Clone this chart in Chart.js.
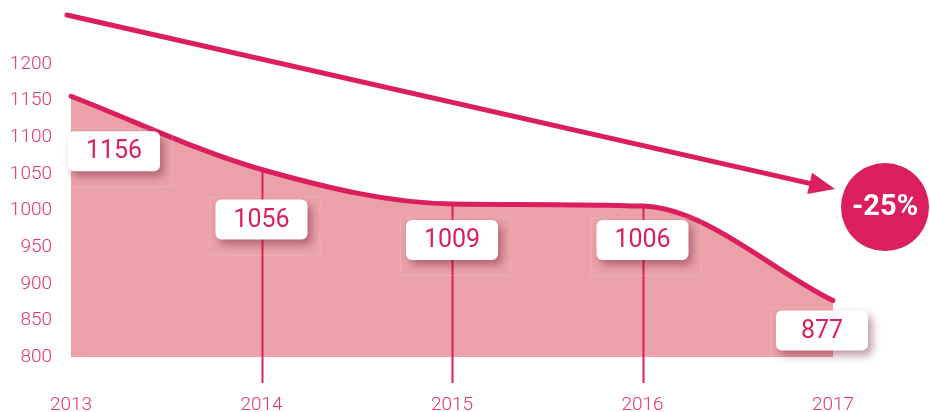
<!DOCTYPE html>
<html>
<head>
<meta charset="utf-8">
<script src="https://cdn.jsdelivr.net/npm/chart.js@4/dist/chart.umd.min.js"></script>
<style>
  html, body { margin: 0; padding: 0; background: #fff; }
  #wrap { width: 930px; height: 412px; position: relative; }
</style>
</head>
<body>
<div id="wrap"><canvas id="trendChart"></canvas></div>
<script>
// Chart data
const years = ['2013', '2014', '2015', '2016', '2017'];
const totals = [1156, 1056, 1009, 1006, 877];
const changeLabel = '-25%';
const yMin = 800;
const yMax = 1200;
const yStep = 50;

const LINE = '#db1e5e';
const FILL = '#eaa2a8';
const TEXT = '#e0336f';

// label box offsets from each point (style only)
const boxOffsets = [[43, 55], [0, 50], [0, 36], [0, 34], [-11, 30]];

function roundRect(ctx, x, y, w, h, r) {
    ctx.beginPath();
    ctx.moveTo(x + r, y);
    ctx.arcTo(x + w, y, x + w, y + h, r);
    ctx.arcTo(x + w, y + h, x, y + h, r);
    ctx.arcTo(x, y + h, x, y, r);
    ctx.arcTo(x, y, x + w, y, r);
    ctx.closePath();
}

const decorPlugin = {
    id: 'decor',
    afterDatasetsDraw(chart) {
        const { ctx, chartArea, scales } = chart;
        const xs = scales.x, ys = scales.y;
        ctx.save();

        // drop lines for the middle years
        ctx.strokeStyle = LINE;
        ctx.lineWidth = 2;
        for (let i = 1; i < totals.length - 1; i++) {
            const px = Math.round(xs.getPixelForValue(i)) + 0.5;
            ctx.beginPath();
            ctx.moveTo(px, ys.getPixelForValue(totals[i]));
            ctx.lineTo(px, chartArea.bottom + 26);
            ctx.stroke();
        }

        // value boxes
        totals.forEach((v, i) => {
            const cx = xs.getPixelForValue(i) + boxOffsets[i][0];
            const cy = ys.getPixelForValue(v) + boxOffsets[i][1];
            const w = 92, h = 40;
            const bx = cx - w / 2, by = cy - h / 2;

            ctx.strokeStyle = 'rgba(255,255,255,0.15)';
            ctx.lineWidth = 1;
            ctx.strokeRect(bx - 5.5, by - 2.5, w + 18, h + 18);

            ctx.save();
            ctx.shadowColor = 'rgba(110, 20, 50, 0.45)';
            ctx.shadowBlur = 9;
            ctx.shadowOffsetX = 4;
            ctx.shadowOffsetY = 5;
            ctx.fillStyle = '#fff';
            roundRect(ctx, bx, by, w, h, 6);
            ctx.fill();
            ctx.restore();

            ctx.fillStyle = LINE;
            ctx.font = '400 25px Roboto';
            ctx.textAlign = 'center';
            ctx.textBaseline = 'middle';
            ctx.fillText(String(v), cx, cy + 1);
        });

        // trend arrow
        const ax0 = chartArea.left - 4, ay0 = chartArea.top - 49;
        const ax1 = chartArea.right + 2, ay1 = ys.getPixelForValue(totals[3]) - 17;
        const ang = Math.atan2(ay1 - ay0, ax1 - ax0);
        const headLen = 26;
        ctx.strokeStyle = LINE;
        ctx.fillStyle = LINE;
        ctx.lineWidth = 5;
        ctx.lineCap = 'round';
        ctx.beginPath();
        ctx.moveTo(ax0, ay0);
        ctx.lineTo(ax1 - headLen * Math.cos(ang), ay1 - headLen * Math.sin(ang));
        ctx.stroke();
        ctx.beginPath();
        ctx.moveTo(ax1, ay1);
        ctx.lineTo(ax1 - headLen * Math.cos(ang) + 11 * Math.sin(ang), ay1 - headLen * Math.sin(ang) - 11 * Math.cos(ang));
        ctx.lineTo(ax1 - headLen * Math.cos(ang) - 11 * Math.sin(ang), ay1 - headLen * Math.sin(ang) + 11 * Math.cos(ang));
        ctx.closePath();
        ctx.fill();

        // change badge
        const ccx = chartArea.right + 52, ccy = ay1 + 18;
        ctx.beginPath();
        ctx.arc(ccx, ccy, 44, 0, Math.PI * 2);
        ctx.fill();
        ctx.fillStyle = '#fff';
        ctx.font = 'bold 29px Roboto';
        ctx.textAlign = 'center';
        ctx.textBaseline = 'middle';
        ctx.fillText(changeLabel, ccx, ccy + 1);

        ctx.restore();
    }
};

new Chart(document.getElementById('trendChart').getContext('2d'), {
    type: 'line',
    data: {
        labels: years,
        datasets: [{
            data: totals,
            borderColor: LINE,
            backgroundColor: FILL,
            borderWidth: 5,
            borderCapStyle: 'round',
            fill: 'start',
            cubicInterpolationMode: 'monotone',
            pointRadius: 0
        }]
    },
    options: {
        responsive: true,
        maintainAspectRatio: false,
        animation: false,
        layout: { padding: { top: 64, right: 97, left: 0, bottom: 0 } },
        plugins: {
            legend: { display: false },
            tooltip: { enabled: false }
        },
        scales: {
            x: {
                offset: false,
                grid: { display: false },
                border: { display: false },
                ticks: {
                    color: TEXT,
                    font: { family: 'Roboto', size: 19, weight: '300' },
                    padding: 29,
                    maxRotation: 0,
                    autoSkip: false
                },
                afterFit(scale) { scale.height = 55; }
            },
            y: {
                min: yMin,
                max: yMax,
                grid: { display: false },
                border: { display: false },
                ticks: {
                    stepSize: yStep,
                    color: TEXT,
                    font: { family: 'Roboto', size: 19, weight: '300' },
                    padding: 11,
                    callback: (v) => String(v)
                },
                afterFit(scale) { scale.width = 71; }
            }
        }
    },
    plugins: [decorPlugin]
});
</script>
</body>
</html>
